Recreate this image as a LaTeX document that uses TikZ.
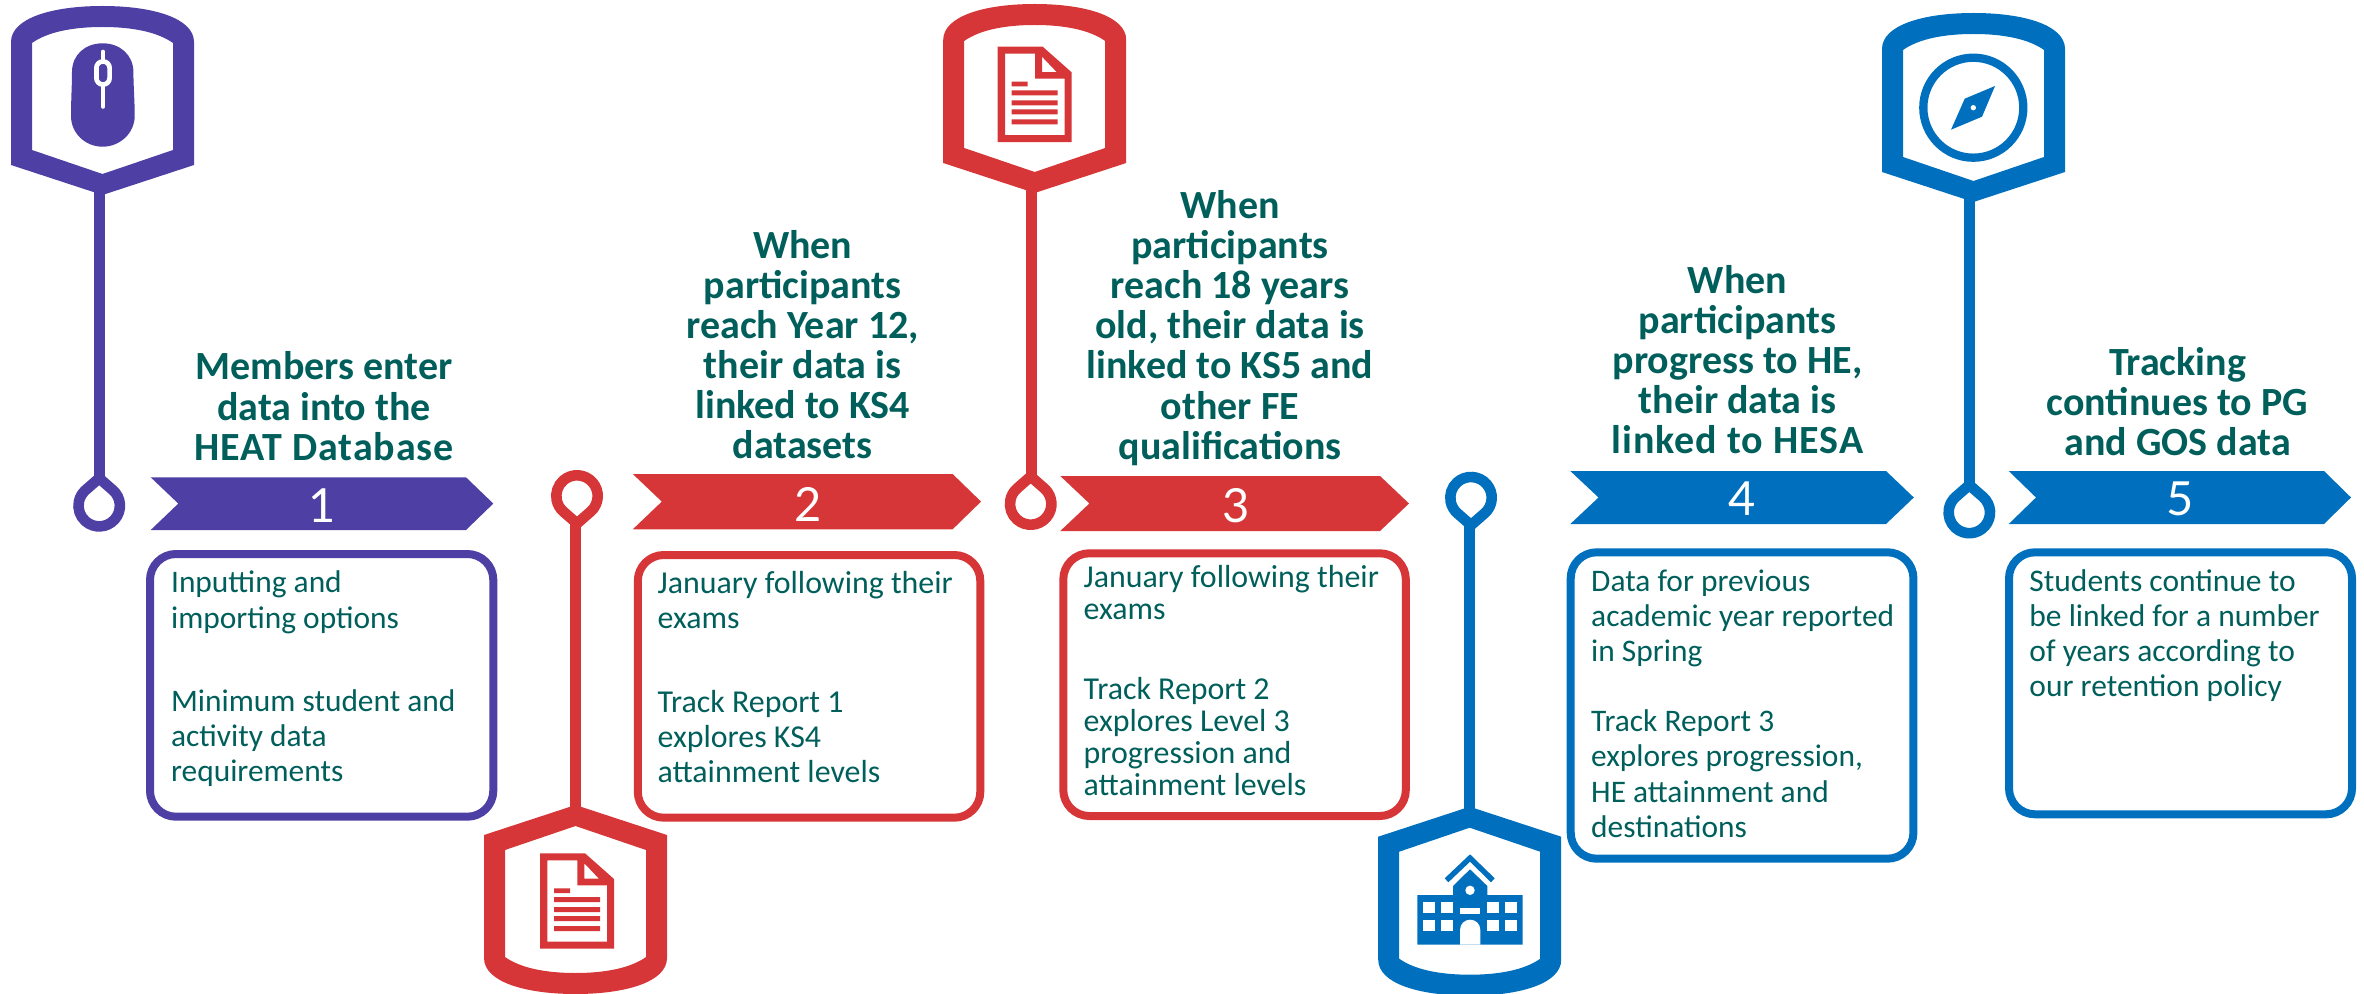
\documentclass[tikz,border=0pt]{standalone}
\usepackage{fontspec}
\setmainfont{Carlito}
\newfontfamily\numfont{Lato}
\definecolor{hpurple}{HTML}{4D3FA4}
\definecolor{hred}{HTML}{D63637}
\definecolor{hblue}{HTML}{0070BE}
\definecolor{hteal}{HTML}{005F5B}
\newcommand\fl{\rule{0pt}{24pt}}
\newcommand\spaced[1]{{\addfontfeature{LetterSpace=2.4}#1}}
\tikzset{
  bodytext/.style={anchor=north west, inner sep=0pt, yshift=24pt, align=left, text=hteal},
  headtext/.style={anchor=north, inner sep=0pt, yshift=24pt, align=center, text=hteal},
  numtext/.style={anchor=base, inner sep=0pt, text=white, font=\numfont\fontsize{23.5}{26}\selectfont},
  infobox/.style={draw=#1, line width=4pt, rounded corners=13pt},
  stem/.style={draw=#1, line width=5.3pt}
}
\newcommand\shieldat[4]{%
  \fill[#4, even odd rule, shift={(#1,#2)}, yscale=#3]
    (-91.5,36) .. controls (-91.5,12) and (-50,0) .. (0,0)
    .. controls (50,0) and (91.5,12) .. (91.5,36)
    -- (91.5,159) -- (0,189) -- (-91.5,159) -- cycle
    (-70.5,37) .. controls (-55,26) and (-30,21) .. (0,21)
    .. controls (30,21) and (55,26) .. (70.5,37)
    -- (70.5,144) -- (0,168) -- (-70.5,144) -- cycle;}
\newcommand\pinat[4]{%
  \draw[#4, line width=5.3pt, miter limit=10, shift={(#1,#2)}, yscale=#3]
    (0,-27.5) -- (-48.8:20.7) arc[start angle=-48.8, end angle=228.8, radius=20.7] -- cycle;}
\newcommand\bannerat[8]{%
  \fill[#8] (#1,#5) -- (#3,#5) -- (#4,#6) -- (#3,#7) -- (#1,#7) -- (#2,#6) -- cycle;}
\newcommand\docicon[2]{%
  \begin{scope}[shift={(#1,#2)}]
  \fill[hred, even odd rule] (0,0) -- (45,0) -- (74,25.7) -- (74,95.4) -- (0,95.4) -- cycle
    (7.3,7) -- (37.3,7) -- (37.3,32) -- (67,32) -- (67,88.4) -- (7.3,88.4) -- cycle
    (44.3,10) -- (59,25.4) -- (44.3,25.4) -- cycle;
  \fill[hred] (14,35) rectangle (30,39.7) (14,43.7) rectangle (60,48.7)
    (14,53.7) rectangle (60,58.7) (14,62.7) rectangle (60,67.7) (14,72.7) rectangle (60,77.7);
  \end{scope}}
\begin{document}
\begin{tikzpicture}[x=0.5pt,y=-0.5pt]
\useasboundingbox (0,0) rectangle (2364,994);
% shields
\shieldat{102.5}{6}{1}{hpurple}
\shieldat{575.5}{994}{-1}{hred}
\shieldat{1034.7}{4}{1}{hred}
\shieldat{1469.7}{995.7}{-1}{hblue}
\shieldat{1973.5}{13}{1}{hblue}
% stems
\coordinate (tip1) at (99.5,190);    \coordinate (pin1) at (99.5,482);
\coordinate (tip2) at (575.5,812);   \coordinate (pin2) at (575.5,520);
\coordinate (tip3) at (1031.3,188);  \coordinate (pin3) at (1031.3,480);
\coordinate (tip4) at (1469.7,812);  \coordinate (pin4) at (1469.7,522);
\coordinate (tip5) at (1969.6,197);  \coordinate (pin5) at (1969.6,489);
\draw[stem=hpurple,line width=5.5pt] (tip1) -- (pin1);
\draw[stem=hred] (tip2) -- (pin2);
\draw[stem=hred] (tip3) -- (pin3);
\draw[stem=hblue] (tip4) -- (pin4);
\draw[stem=hblue] (tip5) -- (pin5);
% pins
\pinat{99.2}{505.7}{1}{hpurple}
\pinat{577}{496}{-1}{hred}
\pinat{1030.7}{504}{1}{hred}
\pinat{1471}{497.7}{-1}{hblue}
\pinat{1969.3}{512.5}{1}{hblue}
% banners
\bannerat{150.7}{178.3}{466}{493.3}{477.3}{503.6}{530}{hpurple}
\bannerat{632.8}{661.8}{952.6}{981}{474}{501.6}{529.3}{hred}
\bannerat{1060.3}{1089.4}{1380}{1409}{476}{503.5}{531}{hred}
\bannerat{1570.3}{1598.5}{1886}{1913.8}{471}{497.5}{524}{hblue}
\bannerat{2008.7}{2036}{2324}{2351}{471}{497.5}{524}{hblue}
\node[numtext] (n1) at (322,522.3) {1};
\node[numtext] (n2) at (808,521) {2};
\node[numtext] (n3) at (1236,522.7) {3};
\node[numtext] (n4) at (1742,515.7) {4};
\node[numtext] (n5) at (2180,515.7) {5};
% boxes
\draw[infobox=hpurple] (150,554) rectangle (493.3,816.7);
\draw[infobox=hred] (637.8,555) rectangle (980.3,817.7);
\draw[infobox=hred] (1063.3,553.3) rectangle (1405.8,816);
\draw[infobox=hblue] (1570.7,552.3) rectangle (1913.4,858.7);
\draw[infobox=hblue] (2009,552.3) rectangle (2352,814.3);
% headings
\node[headtext, font=\bfseries\fontsize{20}{20.05}\selectfont] (h1) at (324,379.5) {\fl Members enter\\data into the\\\spaced{HEAT Database}};
\node[headtext, font=\bfseries\fontsize{20}{20.05}\selectfont] (h2) at (802.7,257.7) {\fl When\\participants\\reach Year 12,\\their data is\\linked to KS4\\datasets};
\node[headtext, font=\bfseries\fontsize{20}{20.1}\selectfont] (h3) at (1230,217.7) {\fl When\\participants\\reach 18 years\\old, their data is\\linked to KS5 and\\other FE\\qualifications};
\node[headtext, font=\bfseries\fontsize{20}{20.08}\selectfont] (h4) at (1737.5,292.7) {\fl When\\participants\\progress to HE,\\their data is\\\spaced{linked to HESA}};
\node[headtext, font=\bfseries\fontsize{20}{20}\selectfont] (h5) at (2177.5,375) {\fl Tracking\\continues to PG\\and GOS data};
% body
\node[bodytext, font=\fontsize{15.7}{17.65}\selectfont] (b1) at (170.7,592.3) {\fl Inputting and\\importing options\\[23.85pt]Minimum student and\\activity data\\requirements};
\node[bodytext, font=\fontsize{15.95}{17.6}\selectfont] (b2) at (657.2,593.3) {\fl January following their\\exams\\[24pt]Track Report 1\\explores KS4\\attainment levels};
\node[bodytext, font=\fontsize{15.95}{16}\selectfont] (b3) at (1083.3,587.3) {\fl January following their\\exams\\[24pt]Track Report 2\\explores Level 3\\progression and\\attainment levels};
\node[bodytext, font=\fontsize{15.7}{17.65}\selectfont] (b4) at (1590.8,590.7) {\fl Data for previous\\academic year reported\\in Spring\\[17.3pt]Track Report 3\\explores progression,\\HE attainment and\\destinations};
\node[bodytext, font=\fontsize{15.75}{17.55}\selectfont] (b5) at (2029,590.7) {\fl Students continue to\\be linked for a number\\of years according to\\our retention policy};
% mouse icon
\fill[hpurple] (72,72) .. controls (72,55) and (85,43.3) .. (102.7,43.3)
  .. controls (120,43.3) and (133.4,55) .. (133.4,72)
  .. controls (133.4,85) and (134.7,100) .. (134.7,116)
  .. controls (134.7,133) and (120,146.7) .. (102.7,146.7)
  .. controls (85,146.7) and (71,133) .. (71,116)
  .. controls (71,100) and (72,85) .. (72,72) -- cycle;
\draw[white, line width=2.35pt, line cap=round] (103,52) -- (103,106.5);
\draw[white, line width=2.35pt, fill=hpurple, rounded corners=3.2pt] (96.4,61.5) rectangle (109.6,84.5);
% document icons
\docicon{540}{853.3}
\docicon{997.7}{46.7}
% school icon
\fill[hblue] (1417.3,895) -- (1453,895) -- (1453,886) -- (1470,869.3) -- (1487.3,886) -- (1487.3,895)
  -- (1522.7,895) -- (1522.7,944.7) -- (1417.3,944.7) -- cycle;
\fill[hblue] (1470,854.3) -- (1494.7,878.3) -- (1491,882.3) -- (1470,861.7) -- (1448.3,882.3) -- (1444.7,878.3) -- cycle;
\fill[white] (1470,890.3) circle[radius=4.7];
\foreach \wx in {1423.3,1441,1487.3,1505} {
  \fill[white] (\wx,902.3) rectangle ++(12,11);
  \fill[white] (\wx,919.7) rectangle ++(12,11.3);
}
\fill[white] (1460,908) rectangle (1480.3,914);
\fill[white] (1460,944.7) -- (1460,930) .. controls (1460,924) and (1464.5,919.7) .. (1470.15,919.7)
  .. controls (1475.8,919.7) and (1480.3,924) .. (1480.3,930) -- (1480.3,944.7) -- cycle;
% compass icon
\draw[hblue, line width=4.15pt] (1973.3,107.7) circle[radius=50];
\fill[hblue] (1995,86) -- (1964.7,98.7) -- (1951,129.7) -- (1982,116.7) -- cycle;
\fill[white] (1973.3,107.7) circle[radius=2.7];
\end{tikzpicture}
\end{document}
